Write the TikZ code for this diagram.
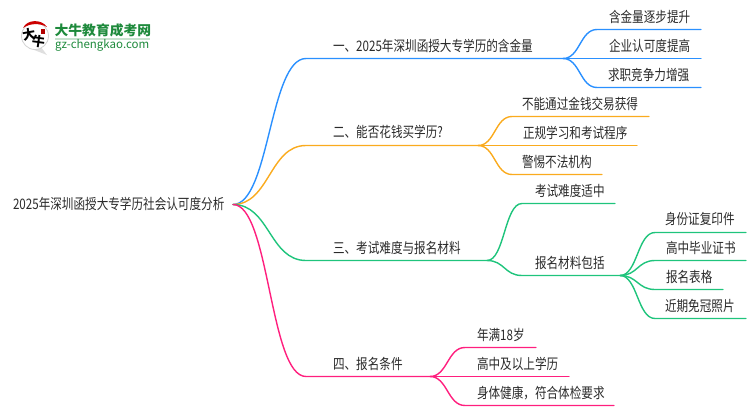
\documentclass[tikz,border=0pt]{standalone}
\usepackage{fontspec}
\setmainfont{Noto Sans CJK SC}
\usetikzlibrary{calc}
\definecolor{cblue}{HTML}{2A90FF}
\definecolor{corange}{HTML}{FAAB1E}
\definecolor{cgreen}{HTML}{1FC47C}
\definecolor{cpink}{HTML}{FF1F7E}
\definecolor{ctext}{HTML}{2A2A2A}
\definecolor{clogo}{HTML}{1E8A3C}
\tikzset{
  lbl/.style={anchor=west,inner sep=0pt,outer sep=0pt,text=ctext,font=\fontsize{14.5}{15}\selectfont,xscale=.8,transform shape},
  wire/.style={line width=1.4pt,line cap=round,line join=round},
  logotitle/.style={anchor=west,inner sep=0pt,text=clogo,font=\fontsize{13.5}{14}\selectfont\bfseries},
  logourl/.style={anchor=west,inner sep=0pt,text=clogo,font=\fontsize{11.5}{12}\selectfont},
  logomark/.style={inner sep=0pt,text=black,font=\fontsize{13}{14}\selectfont\bfseries}
}
\newcommand{\limb}[4]{% colour, from, bend end, line end
  \draw[wire,#1] (#2) .. controls ($(#2)!0.5!(#3 |- #2)$) and ($(#2 |- #3)!0.5!(#3)$) .. (#3) -- (#4);}
\begin{document}
\begin{tikzpicture}[x=1pt,y=-1pt]
\useasboundingbox (0,0) rectangle (750,410);
% logo
\fill[gray!25] (29,48) -- (47,55) -- (41,47) -- cycle;
\draw[gray!35,line width=.8pt,fill=white] (35,36) circle (13.5);
\fill[red!80!black] (23,28) .. controls (27,19) and (42,19) .. (47,27) .. controls (40,23) and (30,23) .. (23,28) -- cycle;
\fill[red!70!black] (41,29) rectangle (45,34);
\node[logomark,rotate=10] (logoa) at (29,34) {大};
\node[logomark,rotate=-8] (logob) at (38.5,42) {牛};
\node[logotitle,xscale=1.02,transform shape] (logoname) at (54.5,30) {大牛教育成考网};
\fill[clogo!25] (55,38) rectangle (150,39.5);
\node[logourl] (logourl) at (55,45) {gz-chengkao.com};
% coordinates
\coordinate (r) at (233,204.5);
\coordinate (b1) at (306,58.5);\coordinate (e1) at (563,58.5);
\coordinate (b2) at (306,145.5);\coordinate (e2) at (478,145.5);
\coordinate (b3) at (306,260.5);\coordinate (e3) at (487,260.5);
\coordinate (b4) at (306,376.5);\coordinate (e4) at (430,376.5);
% 1
\coordinate (a1) at (597,29.5);\coordinate (a1e) at (701,29.5);
\coordinate (a2) at (597,58.5);\coordinate (a2e) at (701,58.5);
\coordinate (a3) at (597,87.5);\coordinate (a3e) at (701,87.5);
% 2
\coordinate (c1) at (512,116.5);\coordinate (c1e) at (649,116.5);
\coordinate (c2) at (512,145.5);\coordinate (c2e) at (637,145.5);
\coordinate (c3) at (512,174.5);\coordinate (c3e) at (602,174.5);
% 3
\coordinate (d1) at (522,203.5);\coordinate (d1e) at (615,203.5);
\coordinate (d2) at (522,275.5);\coordinate (d2e) at (620,275.5);
\coordinate (f1) at (655,232.5);\coordinate (f1e) at (746,232.5);
\coordinate (f2) at (655,260.5);\coordinate (f2e) at (746,260.5);
\coordinate (f3) at (655,289.5);\coordinate (f3e) at (723,289.5);
\coordinate (f4) at (655,318.5);\coordinate (f4e) at (746,318.5);
% 4
\coordinate (g1) at (465,347.5);\coordinate (g1e) at (536,347.5);
\coordinate (g2) at (465,376.5);\coordinate (g2e) at (569,376.5);
\coordinate (g3) at (465,405.5);\coordinate (g3e) at (614,405.5);
% wires
\limb{cblue}{e1}{a1}{a1e}\limb{cblue}{e1}{a2}{a2e}\limb{cblue}{e1}{a3}{a3e}
\limb{corange}{e2}{c1}{c1e}\limb{corange}{e2}{c2}{c2e}\limb{corange}{e2}{c3}{c3e}
\limb{cgreen}{e3}{d1}{d1e}\limb{cgreen}{e3}{d2}{d2e}
\limb{cgreen}{d2e}{f1}{f1e}\limb{cgreen}{d2e}{f2}{f2e}\limb{cgreen}{d2e}{f3}{f3e}\limb{cgreen}{d2e}{f4}{f4e}
\limb{cpink}{e4}{g1}{g1e}\limb{cpink}{e4}{g2}{g2e}\limb{cpink}{e4}{g3}{g3e}
\limb{cblue}{r}{b1}{e1}
\limb{corange}{r}{b2}{e2}
\limb{cgreen}{r}{b3}{e3}
\limb{cpink}{r}{b4}{e4}
% labels
\node[lbl] (root) at (13,204) {2025年深圳函授大专学历社会认可度分析};
\node[lbl] (t1) at (333,45.5) {一、2025年深圳函授大专学历的含金量};
\node[lbl] (t2) at (333,132) {二、能否花钱买学历?};
\node[lbl] (t3) at (333,248) {三、考试难度与报名材料};
\node[lbl] (t4) at (333,364) {四、报名条件};
\node[lbl] (n1) at (609,17) {含金量逐步提升};
\node[lbl] (n2) at (609,46) {企业认可度提高};
\node[lbl] (n3) at (608,75) {求职竞争力增强};
\node[lbl] (n4) at (522,103.5) {不能通过金钱交易获得};
\node[lbl] (n5) at (523,132.5) {正规学习和考试程序};
\node[lbl] (n6) at (522,161.5) {警惕不法机构};
\node[lbl] (n7) at (535,190.5) {考试难度适中};
\node[lbl] (n8) at (535,262.5) {报名材料包括};
\node[lbl] (n9) at (665,219) {身份证复印件};
\node[lbl] (n10) at (666,248) {高中毕业证书};
\node[lbl] (n11) at (666,277) {报名表格};
\node[lbl] (n12) at (665,306) {近期免冠照片};
\node[lbl] (n13) at (477,335) {年满18岁};
\node[lbl] (n14) at (477,364) {高中及以上学历};
\node[lbl] (n15) at (477,393) {身体健康，符合体检要求};
\end{tikzpicture}
\end{document}
